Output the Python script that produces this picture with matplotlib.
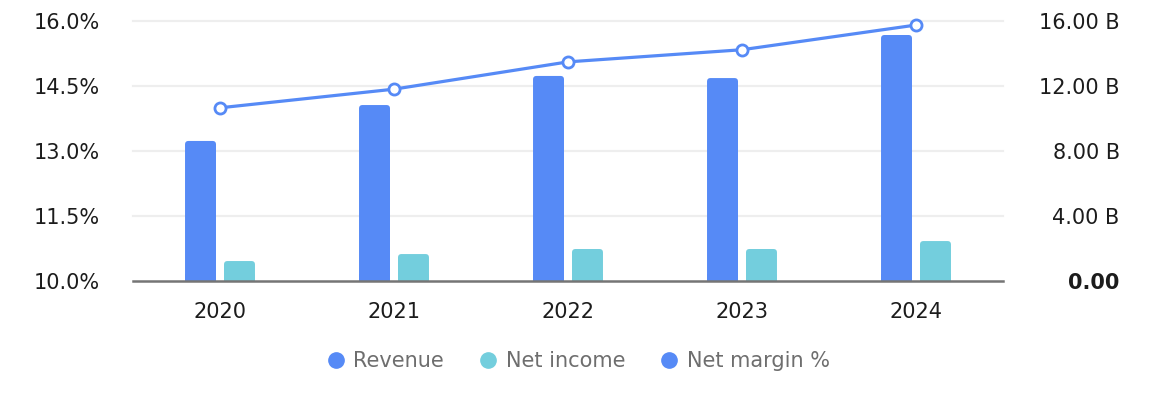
import matplotlib
matplotlib.use("Agg")
import matplotlib.pyplot as plt
from matplotlib.lines import Line2D
from matplotlib.patches import FancyBboxPatch
import numpy as np

years = ["2020", "2021", "2022", "2023", "2024"]
revenue_b = [8.60, 10.81, 12.60, 12.47, 15.12]
net_income_b = [1.21, 1.64, 1.95, 1.95, 2.44]
net_margin_pct = [13.99, 14.42, 15.05, 15.33, 15.90]

left_ticks = [10.0, 11.5, 13.0, 14.5, 16.0]
right_ticks = [0, 4, 8, 12, 16]
right_labels = ["0.00", "4.00 B", "8.00 B", "12.00 B", "16.00 B"]

BLUE = "#568af6"
CYAN = "#73cedd"
TXT = "#1c1c1c"
GRID = "#eeeeee"

plt.rcParams['font.family'] = ['DejaVu Sans']

W, H = 1162, 398
fig = plt.figure(figsize=(W / 100, H / 100), dpi=100)
L, R, T, B = 133, 1003, 20.7, 280.7
ax = fig.add_axes([L / W, 1 - B / H, (R - L) / W, (B - T) / H])
ax2 = ax.twinx()

x = np.arange(len(years))
bw = 0.178
off = 0.112

ax.set_xlim(-0.5, len(years) - 0.5)
ax.set_ylim(0, 16)

px_per_x = (R - L) / len(years)
px_per_y = (B - T) / 16
aspect = px_per_x / px_per_y

def rounded_bars(axis, xs, vals, color):
    for xi, v in zip(xs, vals):
        p = FancyBboxPatch((xi - bw / 2, 0), bw, v,
                           boxstyle="round,pad=0,rounding_size=0.02",
                           mutation_aspect=aspect,
                           facecolor=color, edgecolor="none", zorder=3)
        axis.add_patch(p)
        axis.bar(xi, min(v, 0.4), width=bw, color=color, zorder=3, linewidth=0)

rounded_bars(ax, x - off, revenue_b, BLUE)
rounded_bars(ax, x + off, net_income_b, CYAN)

for yt in right_ticks[1:]:
    ax.axhline(yt, color=GRID, lw=1.6, zorder=0, clip_on=False)

ax.yaxis.tick_right()
ax.yaxis.set_label_position("right")
ax.set_yticks(right_ticks)
ax.set_yticklabels(right_labels)
ax.tick_params(axis="y", which="both", left=False, labelleft=False,
               right=False, labelright=True, length=0, pad=84,
               labelsize=15, colors=TXT)
for lbl in ax.get_yticklabels():
    lbl.set_horizontalalignment("right")
ax.get_yticklabels()[0].set_fontweight("bold")

ax.set_xticks(x)
ax.set_xticklabels(years)
ax.tick_params(axis="x", length=0, pad=15, labelsize=15, colors=TXT)

for s in ["top", "left", "right"]:
    ax.spines[s].set_visible(False)
ax.spines["bottom"].set_color("#757575")
ax.spines["bottom"].set_linewidth(1.8)
ax.spines["bottom"].set_zorder(5)

ax2.set_ylim(10, 16)
ax2.yaxis.tick_left()
ax2.set_yticks(left_ticks)
ax2.set_yticklabels([f"{v:.1f}%" for v in left_ticks])
ax2.tick_params(axis="y", which="both", right=False, labelright=False,
                left=False, labelleft=True, length=0, pad=24,
                labelsize=15, colors=TXT)
for s in ax2.spines.values():
    s.set_visible(False)
ax2.plot(x, net_margin_pct, color=BLUE, lw=2.3, marker="o", markersize=8,
         markerfacecolor="white", markeredgecolor=BLUE, markeredgewidth=2.0,
         zorder=6, clip_on=False)

handles = [
    Line2D([], [], ls="none", marker="o", markersize=11, color=BLUE),
    Line2D([], [], ls="none", marker="o", markersize=11, color=CYAN),
    Line2D([], [], ls="none", marker="o", markersize=11, color=BLUE),
]
leg = fig.legend(handles, ["Revenue", "Net income", "Net margin %"],
                 loc="center", bbox_to_anchor=(0.497, 0.093), ncol=3,
                 frameon=False, fontsize=15, handletextpad=0.35,
                 columnspacing=1.6, handlelength=1.0)
for t in leg.get_texts():
    t.set_color("#6e6e6e")

fig.savefig("out.png", dpi=100)
